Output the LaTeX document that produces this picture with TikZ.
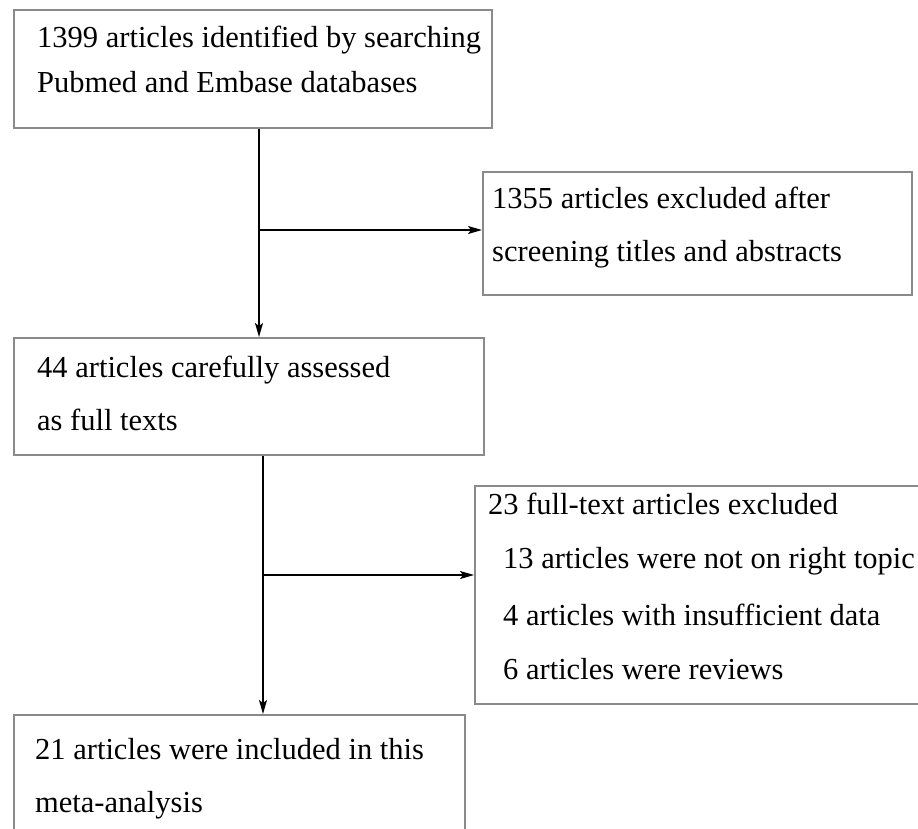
\documentclass[tikz,border=0pt]{standalone}
\usepackage{fontspec}
\setmainfont{Liberation Serif}
\usetikzlibrary{arrows.meta,calc}
\definecolor{boxgray}{RGB}{138,138,138}
\begin{document}
\begin{tikzpicture}[x=1pt,y=-1pt,
  box/.style={draw=boxgray, line width=1.8pt, fill=white, inner sep=0pt, anchor=north west},
  txt/.style={anchor=base west, inner sep=0pt, font=\fontsize{30.5}{36}\selectfont, text=black},
  arr/.style={draw=black, line width=1.5pt, -{Stealth[length=14pt,width=8pt,inset=3pt]}},
  plain/.style={draw=black, line width=1.5pt}]
\useasboundingbox (0,0) rectangle (918,829);
\clip (0,0) rectangle (918,829);
\fill[white] (0,0) rectangle (918,829);
% boxes
\node[box, minimum width=478pt, minimum height=118pt] (b1) at (13,9) {};
\node[box, minimum width=429pt, minimum height=123pt] (b2) at (482,171) {};
\node[box, minimum width=470pt, minimum height=117pt] (b3) at (13,337) {};
\node[box, minimum width=470pt, minimum height=218pt] (b4) at (474,485) {};
\node[box, minimum width=451pt, minimum height=140pt] (b5) at (13,714) {};
% texts
\node[txt] (t1a) at (37,48) {1399 articles identified by searching};
\node[txt] (t1b) at (37,93) {Pubmed and Embase databases};
\node[txt] (t2a) at (492,208) {1355 articles excluded after};
\node[txt] (t2b) at (492,261) {screening titles and abstracts};
\node[txt] (t3a) at (37,377) {44 articles carefully assessed};
\node[txt] (t3b) at (37,430) {as full texts};
\node[txt] (t4a) at (488,514) {23 full-text articles excluded};
\node[txt] (t4b) at (503,568) {13 articles were not on right topic};
\node[txt] (t4c) at (503,625) {4 articles with insufficient data};
\node[txt] (t4d) at (503,679) {6 articles were reviews};
\node[txt] (t5a) at (35,759) {21 articles were included in this};
\node[txt] (t5b) at (35,812) {meta-analysis};
% connectors
\coordinate (x1) at (259,0);
\coordinate (x2) at (263,0);
\coordinate (j1) at (259,230);
\coordinate (j2) at (263,575);
\draw[arr] (b1.south -| x1) -- (b3.north -| x1);
\draw[arr] (j1) -- (j1 -| b2.west);
\draw[arr] (b3.south -| x2) -- (b5.north -| x2);
\draw[arr] (j2) -- (j2 -| b4.west);
\end{tikzpicture}
\end{document}
